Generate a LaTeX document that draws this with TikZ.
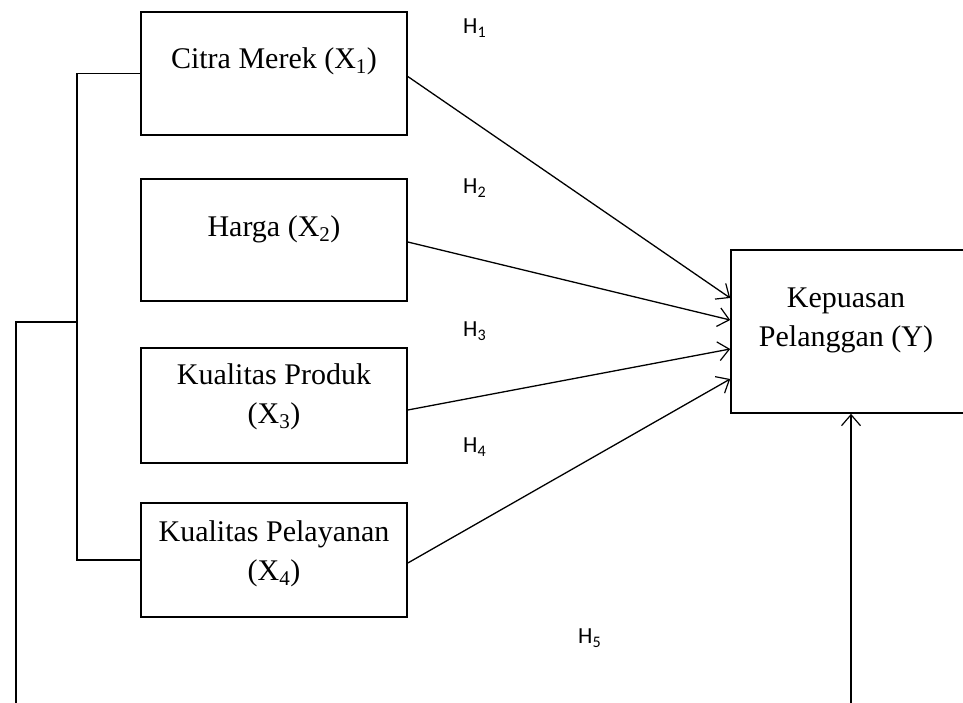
\documentclass[tikz,border=0pt]{standalone}
\usepackage{fontspec}
\setmainfont{Liberation Serif}
\newfontfamily\hypfont{Carlito}
\usetikzlibrary{positioning}
\usetikzlibrary{arrows.meta}
\tikzset{varbox/.style={draw, line width=1.6pt, minimum width=266pt, inner sep=0pt},
vartext/.style={align=center, inner sep=0pt, font=\fontsize{30}{39}\selectfont},
hyp/.style={anchor=west, inner sep=0pt, font=\hypfont\fontsize{23}{25}\selectfont},
link/.style={line width=1.3pt},
hlink/.style={link, -{Straight Barb[length=11pt,width=19pt,line width=1.2pt]}}}

\begin{document}
\begin{tikzpicture}[x=1pt, y=-1pt]
	\useasboundingbox (0,0) rectangle (963,703);
	% independent variables
	\node[varbox, minimum height=123pt] (citra) at (274,73.5) {};
	\node[vartext, below=36pt of citra.north] (citraT) {Citra Merek (X\textsubscript{1})};
	\node[varbox, minimum height=122pt] (harga) at (274,240) {};
	\node[vartext, below=37pt of harga.north] (hargaT) {Harga (X\textsubscript{2})};
	\node[varbox, minimum height=115pt] (produk) at (274,405.5) {};
	\node[vartext, below=16pt of produk.north] (produkT) {Kualitas Produk\\(X\textsubscript{3})};
	\node[varbox, minimum height=114pt] (pelayanan) at (274,560) {};
	\node[vartext, below=18pt of pelayanan.north] (pelayananT) {Kualitas Pelayanan\\(X\textsubscript{4})};
	% dependent variable
	\node[varbox, minimum width=234pt, minimum height=163pt] (kepuasan) at (848,331.5) {};
	\node[vartext, below=38pt of kepuasan.north, xshift=-2pt] (kepuasanT) {Kepuasan\\Pelanggan (Y)};

	\coordinate (in1) at ([yshift=33.5pt]kepuasan.west);
	\coordinate (in2) at ([yshift=11.5pt]kepuasan.west);
	\coordinate (in3) at ([yshift=-17.5pt]kepuasan.west);
	\coordinate (in4) at ([yshift=-47.5pt]kepuasan.west);
	\draw[hlink] ([yshift=-3pt]citra.east) -- (in1);
	\draw[hlink] ([yshift=-2pt]harga.east) -- (in2);
	\draw[hlink] ([yshift=-4.5pt]produk.east) -- (in3);
	\draw[hlink] ([yshift=-3pt]pelayanan.east) -- (in4);

	% simultaneous path
	\coordinate (join) at (77,322);
	\coordinate (bl) at (16,703);
	\coordinate (br) at (851,703);
	\draw[link] (citra.west) -| (join) |- (pelayanan.west);
	\draw[link] (bl) |- (join);
	\draw[hlink] (br) -- (br |- kepuasan.south);

	% hypotheses
	\node[hyp] (h1) at (463,28) {H\textsubscript{1}};
	\node[hyp] (h2) at (463,188) {H\textsubscript{2}};
	\node[hyp] (h3) at (463,331) {H\textsubscript{3}};
	\node[hyp] (h4) at (463,447) {H\textsubscript{4}};
	\node[hyp] (h5) at (578,638) {H\textsubscript{5}};
\end{tikzpicture}
\end{document}
